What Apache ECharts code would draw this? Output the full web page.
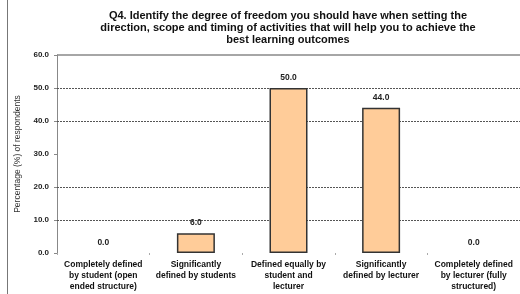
<!DOCTYPE html>
<html>
<head>
<meta charset="utf-8">
<script src="https://cdn.jsdelivr.net/npm/echarts@6/dist/echarts.min.js"></script>
<style>
  html, body { margin: 0; padding: 0; background: #fff; }
  #chart { width: 520px; height: 294px; }
</style>
</head>
<body>
<div id="chart"></div>
<script>
var categories = [
  'Completely defined\nby student (open\nended structure)',
  'Significantly\ndefined by students',
  'Defined equally by\nstudent and\nlecturer',
  'Significantly\ndefined by lecturer',
  'Completely defined\nby lecturer (fully\nstructured)'
];
var values = [0.0, 6.0, 50.0, 44.0, 0.0];
var gridValues = [10, 20, 40, 50];

var chart = echarts.init(document.getElementById('chart'));
var font = 'Liberation Sans, Arial, sans-serif';

var option = {
  animation: false,
  title: {
    text: 'Q4. Identify the degree of freedom you should have when setting the\ndirection, scope and timing of activities that will help you to achieve the\nbest learning outcomes',
    left: 283,
    top: 5,
    textAlign: 'center',
    textStyle: { fontFamily: font, fontSize: 11, fontWeight: 'bold', color: '#111', lineHeight: 12 }
  },
  grid: { left: 57, top: 55, width: 465, height: 198 },
  xAxis: {
    type: 'category',
    data: categories,
    axisLine: { show: false },
    axisTick: { show: true, alignWithLabel: false, length: 2, lineStyle: { color: '#aaa' } },
    axisLabel: { interval: 0, margin: 6, fontFamily: font, fontSize: 8.5, fontWeight: 'bold', color: '#111', lineHeight: 11 }
  },
  yAxis: {
    type: 'value',
    min: 0, max: 60, interval: 10,
    name: 'Percentage (%) of respondents',
    nameLocation: 'middle',
    nameGap: 26,
    nameTextStyle: { fontFamily: font, fontSize: 8.5, color: '#333' },
    axisLine: { show: true, lineStyle: { color: '#888', width: 1 } },
    axisTick: { show: true, length: 3, lineStyle: { color: '#888' } },
    splitLine: { show: false },
    axisLabel: {
      fontFamily: font, fontSize: 8, fontWeight: 'bold', color: '#222', margin: 8,
      formatter: function (v) { return v.toFixed(1); }
    }
  },
  graphic: [
    { type: 'line', shape: { x1: 7.5, y1: 0, x2: 7.5, y2: 294 }, style: { stroke: '#777', lineWidth: 1 } }
  ],
  series: [{
    type: 'bar',
    data: values.map(function (v) {
      return v === 0 ? { value: v, itemStyle: { borderWidth: 0 } } : v;
    }),
    barWidth: 38,
    itemStyle: { color: '#FFCC99', borderColor: '#333', borderWidth: 1.5 },
    label: {
      show: true, position: 'top', distance: 6,
      fontFamily: font, fontSize: 8.5, fontWeight: 'bold', color: '#222',
      formatter: function (p) { return p.value.toFixed(1); }
    },
    markLine: {
      silent: true, symbol: 'none', label: { show: false }, z: 1,
      data: gridValues.map(function (v) {
        return { yAxis: v, lineStyle: { color: '#555', type: [2, 1], width: 1 } };
      }).concat([{ yAxis: 60, lineStyle: { color: '#888', type: 'solid', width: 1.5 } }])
    }
  }]
};
chart.setOption(option);
</script>
</body>
</html>
